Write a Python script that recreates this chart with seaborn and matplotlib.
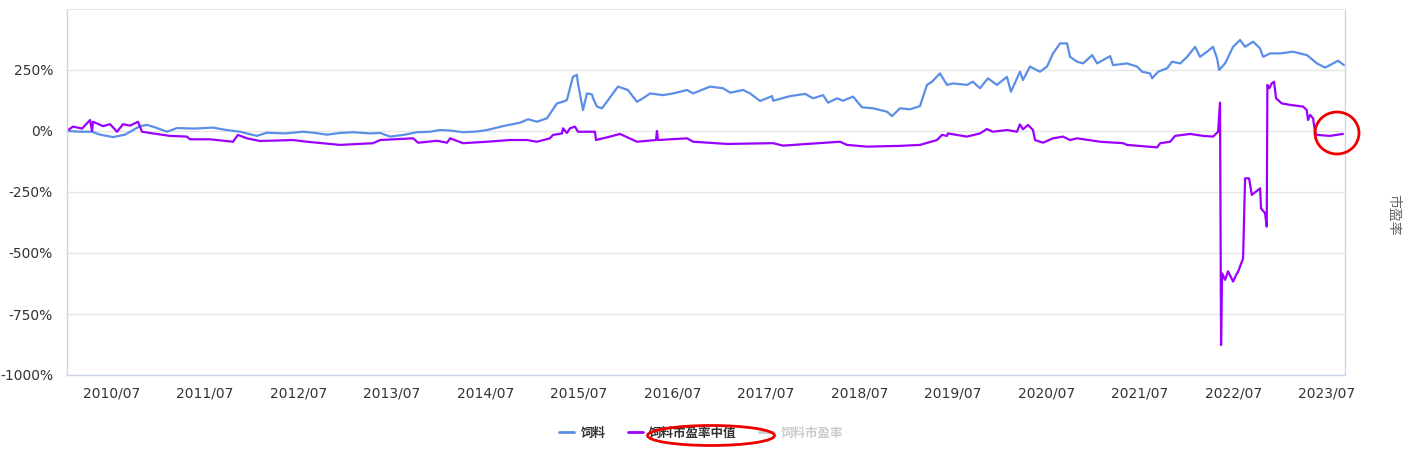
import seaborn as sns
import matplotlib.pyplot as plt
import matplotlib.dates as mdates
from matplotlib.lines import Line2D
from matplotlib.patches import Ellipse
from matplotlib.font_manager import FontProperties
import pandas as pd


# 饲料 (decimal year, %)
feed_t = [2010.029, 2010.158, 2010.286, 2010.372, 2010.511, 2010.639, 2010.800, 2010.874, 2010.960,
          2011.088, 2011.195, 2011.388, 2011.581, 2011.709, 2011.870, 2012.051, 2012.158, 2012.351,
          2012.544, 2012.672, 2012.800, 2012.940, 2013.079, 2013.261, 2013.368, 2013.475, 2013.635,
          2013.763, 2013.903, 2014.010, 2014.117, 2014.256, 2014.405, 2014.512, 2014.684, 2014.866,
          2014.951, 2015.047, 2015.154, 2015.261, 2015.326, 2015.368, 2015.432, 2015.475, 2015.486,
          2015.540, 2015.582, 2015.636, 2015.647, 2015.689, 2015.743, 2015.796, 2015.861, 2015.914,
          2016.021, 2016.117, 2016.182, 2016.257, 2016.396, 2016.503, 2016.652, 2016.717, 2016.898,
          2017.038, 2017.113, 2017.252, 2017.326, 2017.433, 2017.562, 2017.573, 2017.754, 2017.915,
          2018.001, 2018.108, 2018.161, 2018.257, 2018.321, 2018.428, 2018.525, 2018.643, 2018.792,
          2018.846, 2018.931, 2019.038, 2019.145, 2019.220, 2019.274, 2019.359, 2019.434, 2019.499,
          2019.648, 2019.712, 2019.787, 2019.873, 2019.969, 2020.076, 2020.119, 2020.215, 2020.247,
          2020.322, 2020.429, 2020.504, 2020.568, 2020.643, 2020.718, 2020.750, 2020.825, 2020.889,
          2020.986, 2021.039, 2021.178, 2021.210, 2021.360, 2021.467, 2021.521, 2021.606, 2021.628,
          2021.692, 2021.788, 2021.842, 2021.928, 2022.003, 2022.088, 2022.141, 2022.216, 2022.280,
          2022.323, 2022.345, 2022.409, 2022.495, 2022.570, 2022.623, 2022.709, 2022.783, 2022.816,
          2022.891, 2022.998, 2023.136, 2023.286, 2023.393, 2023.479, 2023.532, 2023.618, 2023.682]
feed_v = [0, -3, -3, -15, -25, -15, 20, 25, 15,
          -3, 12, 10, 14, 5, -3, -20, -7, -10,
          -3, -8, -15, -8, -5, -10, -8, -23, -15,
          -5, -3, 4, 2, -5, -2, 4, 20, 34,
          48, 38, 52, 113, 120, 127, 222, 230, 196,
          86, 154, 150, 135, 100, 93, 120, 154, 182,
          168, 120, 134, 154, 147, 154, 168, 154, 182,
          175, 157, 168, 154, 123, 143, 124, 143, 152,
          134, 147, 116, 134, 124, 141, 97, 93, 79,
          61, 93, 89, 102, 189, 202, 236, 189, 195,
          189, 202, 175, 216, 189, 222, 161, 243, 209,
          264, 243, 264, 318, 359, 359, 304, 284, 277,
          311, 277, 307, 270, 277, 264, 243, 236, 216,
          243, 257, 284, 277, 304, 345, 304, 325, 345,
          298, 250, 277, 345, 373, 345, 366, 339, 304,
          318, 318, 325, 311, 277, 260, 270, 288, 270]

# 饲料市盈率中值 (decimal year, %)
pe_t = [2010.029, 2010.083, 2010.179, 2010.265, 2010.286, 2010.297, 2010.404, 2010.479, 2010.554,
        2010.618, 2010.693, 2010.778, 2010.821, 2010.939, 2011.121, 2011.302, 2011.335, 2011.549,
        2011.795, 2011.848, 2011.944, 2012.084, 2012.437, 2012.586, 2012.940, 2013.293, 2013.368,
        2013.721, 2013.774, 2013.977, 2014.084, 2014.117, 2014.256, 2014.512, 2014.759, 2014.940,
        2015.047, 2015.186, 2015.219, 2015.315, 2015.326, 2015.368, 2015.401, 2015.454, 2015.486,
        2015.668, 2015.679, 2015.829, 2015.936, 2016.117, 2016.321, 2016.331, 2016.342, 2016.652,
        2016.717, 2017.080, 2017.573, 2017.680, 2017.937, 2018.289, 2018.364, 2018.578, 2018.931,
        2019.145, 2019.327, 2019.381, 2019.434, 2019.445, 2019.648, 2019.787, 2019.862, 2019.926,
        2020.076, 2020.183, 2020.215, 2020.247, 2020.301, 2020.354, 2020.376, 2020.461, 2020.568,
        2020.675, 2020.750, 2020.825, 2021.071, 2021.318, 2021.360, 2021.681, 2021.714, 2021.821,
        2021.874, 2022.035, 2022.174, 2022.280, 2022.334, 2022.355, 2022.366, 2022.377, 2022.409,
        2022.441, 2022.473, 2022.495, 2022.527, 2022.548, 2022.602, 2022.623, 2022.666, 2022.695,
        2022.784, 2022.794, 2022.837, 2022.855, 2022.862, 2022.883, 2022.909, 2022.933, 2022.955,
        2023.016, 2023.105, 2023.244, 2023.283, 2023.297, 2023.319, 2023.351, 2023.372, 2023.390,
        2023.532, 2023.671]
pe_v = [4, 18, 10, 45, 0, 38, 20, 28, -3,
        28, 22, 38, -3, -10, -20, -23, -34, -34,
        -44, -16, -30, -41, -37, -44, -57, -50, -37,
        -30, -48, -40, -48, -30, -50, -44, -37, -37,
        -44, -30, -16, -10, 11, -8, 11, 18, -3,
        -3, -37, -23, -12, -44, -37, 0, -37, -30,
        -44, -53, -50, -60, -53, -44, -57, -64, -61,
        -57, -37, -16, -20, -10, -23, -10, 8, -3,
        4, -3, 27, 7, 25, 4, -37, -48, -30,
        -23, -37, -30, -44, -50, -57, -67, -50, -44,
        -20, -12, -20, -23, -3, 116, -877, -583, -610,
        -575, -600, -617, -590, -577, -522, -194, -194, -262,
        -235, -317, -337, -392, 189, 175, 195, 202, 134,
        113, 107, 100, 86, 45, 66, 52, -3, -16,
        -20, -12]

y_ticks = [-1000, -750, -500, -250, 0, 250]
x_years = list(range(2010, 2024))
legend_labels = ['饲料', '饲料市盈率中值', '饲料市盈率']


def to_date(y):
    year = int(y)
    start = pd.Timestamp(year, 1, 1)
    return start + (pd.Timestamp(year + 1, 1, 1) - start) * (y - year)


feed = pd.DataFrame({'date': [to_date(t) for t in feed_t], 'value': feed_v})
pe = pd.DataFrame({'date': [to_date(t) for t in pe_t], 'value': pe_v})

sns.set_style('white')
plt.rcParams['font.family'] = ['DejaVu Sans', 'Noto Sans CJK SC']

W, H = 1410, 454
fig = plt.figure(figsize=(W / 100, H / 100), dpi=100)
ax = fig.add_axes([67 / W, 1 - 375 / H, (1345 - 67) / W, (375 - 9) / H])

blue, purple = '#5b8ee6', '#9b00ff'
sns.lineplot(data=feed, x='date', y='value', ax=ax, color=blue, linewidth=1.6,
             estimator=None, sort=False)
sns.lineplot(data=pe, x='date', y='value', ax=ax, color=purple, linewidth=1.6,
             estimator=None, sort=False)

ax.set_xlim(to_date(2010.018), to_date(2023.693))
ax.set_ylim(-1000, 500)
ax.set_yticks(y_ticks)
ax.set_yticklabels([f'{v}%' for v in y_ticks])
ax.set_xticks([pd.Timestamp(y, 7, 1) for y in x_years])
ax.xaxis.set_major_formatter(mdates.DateFormatter('%Y/%m'))
ax.set_xlabel('')
ax.set_ylabel('')
ax.grid(axis='y', color='#e6e6e6', linewidth=1)
ax.grid(axis='x', visible=False)
ax.tick_params(axis='y', length=0, pad=10, labelsize=10, labelcolor='#333333')
ax.tick_params(axis='x', length=5, width=1, color='#ccd6eb', pad=3, labelsize=10,
               labelcolor='#333333')
for side in ['left', 'bottom', 'right']:
    ax.spines[side].set_color('#ccd6eb')
    ax.spines[side].set_linewidth(1)
ax.spines['top'].set_color('#e6e6e6')

# legend
handles = [Line2D([], [], color=blue, lw=2), Line2D([], [], color=purple, lw=2),
           Line2D([], [], color='#cccccc', lw=2)]
leg = ax.legend(handles, legend_labels, loc='center', ncol=3, frameon=False,
                bbox_to_anchor=(701 / W, 1 - 433 / H), bbox_transform=fig.transFigure,
                prop=FontProperties(family=['Noto Sans CJK SC', 'DejaVu Sans'], weight='bold', size=9),
                handlelength=1.2, handletextpad=0.5, columnspacing=1.8)
for t, c in zip(leg.get_texts(), ['#333333', '#333333', '#cccccc']):
    t.set_color(c)

# right axis title
fig.text(1393 / W, 1 - 215 / H, '市盈率', rotation=270, ha='center', va='center',
         fontsize=10, color='#666666', family=['Noto Sans CJK SC', 'DejaVu Sans'])

# red marks
fig.add_artist(Ellipse((1337 / W, 1 - 133 / H), 44 / W, 42 / H, transform=fig.transFigure,
                       fill=False, edgecolor='#ee0000', linewidth=2))
fig.add_artist(Ellipse((711 / W, 1 - 435.5 / H), 127 / W, 20 / H, transform=fig.transFigure,
                       fill=False, edgecolor='#ee0000', linewidth=2))

fig.savefig('out.png', dpi=100)
